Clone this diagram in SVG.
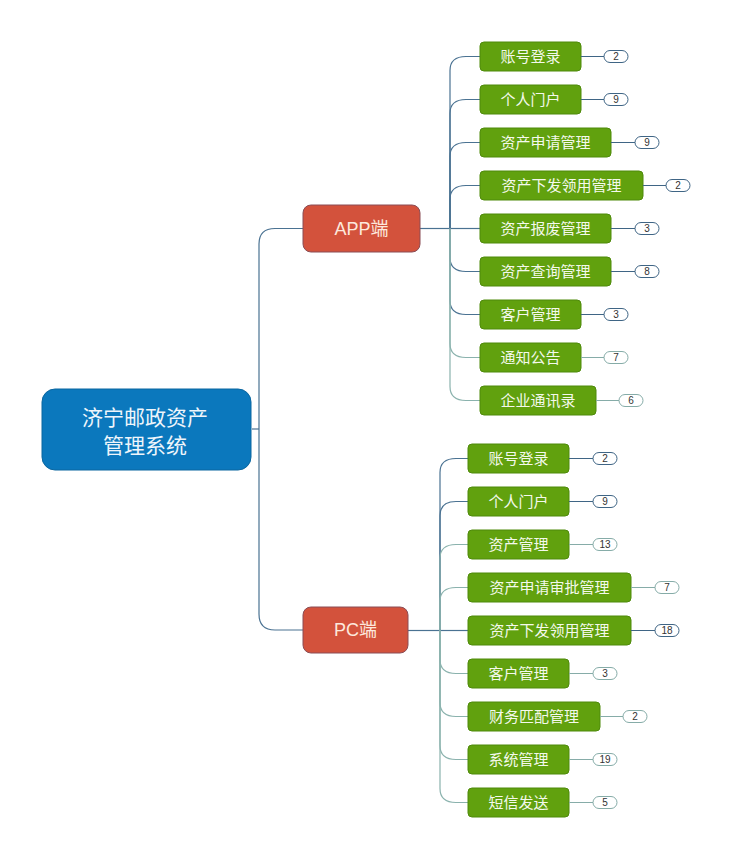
<svg xmlns="http://www.w3.org/2000/svg" width="732" height="860" viewBox="0 0 732 860">
<style>
text{font-family:"Liberation Sans","Noto Sans CJK SC",sans-serif;text-anchor:middle;dominant-baseline:central}
.root rect{fill:#0b78bd;stroke:#0a66a0;stroke-width:1}
.root text{fill:#eef5fb;font-size:21px}
.mid rect{fill:#d3523c;stroke:#8a4d55;stroke-width:1}
.mid text{fill:#fde8dc;font-size:18px}
.leaf rect.b{fill:#61a10e;stroke:#4f8a0b;stroke-width:1}
.leaf text.t{fill:#f4f9ec;font-size:15px}
.leaf rect.p{fill:#fff;stroke:#3f6585;stroke-width:1}
.leaf text.n{fill:#333;font-size:10px}
.leaf line{stroke:#3f6585;stroke-width:1}
.lt rect.p{stroke:#86aca8}
.lt line{stroke:#86aca8}
.c path{fill:none;stroke:#4a7292;stroke-width:1.2}
.c path.l{stroke:#8ab2ad}
</style>
<g class="c" id="connectors">
<path d="M252,429 H259"/>
<path d="M259,429 V244 Q259,228.5 275,228.5 H303"/>
<path d="M259,429 V614 Q259,630 275,630 H303"/>
<path d="M420,228.5 H450"/>
<path d="M450,228.5 V70.5 Q450,56.5 466,56.5 H480"/>
<path d="M450,228.5 V113.5 Q450,99.5 466,99.5 H480"/>
<path d="M450,228.5 V156.5 Q450,142.5 466,142.5 H480"/>
<path d="M450,228.5 V199.5 Q450,185.5 466,185.5 H480"/>
<path d="M450,228.5 H480"/>
<path d="M450,228.5 V257.5 Q450,271.5 466,271.5 H480"/>
<path d="M450,228.5 V300.5 Q450,314.5 466,314.5 H480"/>
<path class="l" d="M450,228.5 V343.5 Q450,357.5 466,357.5 H480"/>
<path class="l" d="M450,228.5 V386.5 Q450,400.5 466,400.5 H480"/>
<path d="M408,630.5 H440"/>
<path d="M440,630.5 V472.5 Q440,458.5 456,458.5 H468"/>
<path d="M440,630.5 V515.5 Q440,501.5 456,501.5 H468"/>
<path class="l" d="M440,630.5 V558.5 Q440,544.5 456,544.5 H468"/>
<path class="l" d="M440,630.5 V601.5 Q440,587.5 456,587.5 H468"/>
<path d="M440,630.5 H468"/>
<path class="l" d="M440,630.5 V659.5 Q440,673.5 456,673.5 H468"/>
<path class="l" d="M440,630.5 V702.5 Q440,716.5 456,716.5 H468"/>
<path class="l" d="M440,630.5 V745.5 Q440,759.5 456,759.5 H468"/>
<path class="l" d="M440,630.5 V788.5 Q440,802.5 456,802.5 H468"/>
</g>
<g class="root" id="root">
<rect x="42" y="389" width="209" height="81" rx="13"/>
<text x="145" y="417">济宁邮政资产</text>
<text x="145" y="445">管理系统</text>
</g>
<g class="mid" id="app">
<rect x="303" y="205" width="117" height="47" rx="8"/>
<text x="361.5" y="228.5">APP端</text>
</g>
<g class="mid" id="pc">
<rect x="303" y="607" width="105" height="46" rx="8"/>
<text x="355.5" y="630">PC端</text>
</g>
<g class="leaf" id="app1"><rect class="b" x="480" y="42" width="101" height="29" rx="4"/><text class="t" x="530.5" y="56.5">账号登录</text><line x1="581" y1="56.5" x2="604" y2="56.5"/><rect class="p" x="604" y="50.5" width="24" height="12" rx="6"/><text class="n" x="616" y="56.5">2</text></g>
<g class="leaf" id="app2"><rect class="b" x="480" y="85" width="101" height="29" rx="4"/><text class="t" x="530.5" y="99.5">个人门户</text><line x1="581" y1="99.5" x2="604" y2="99.5"/><rect class="p" x="604" y="93.5" width="24" height="12" rx="6"/><text class="n" x="616" y="99.5">9</text></g>
<g class="leaf" id="app3"><rect class="b" x="480" y="128" width="131" height="29" rx="4"/><text class="t" x="545.5" y="142.5">资产申请管理</text><line x1="611" y1="142.5" x2="635" y2="142.5"/><rect class="p" x="635" y="136.5" width="24" height="12" rx="6"/><text class="n" x="647" y="142.5">9</text></g>
<g class="leaf" id="app4"><rect class="b" x="480" y="171" width="163" height="29" rx="4"/><text class="t" x="561.5" y="185.5">资产下发领用管理</text><line x1="643" y1="185.5" x2="666" y2="185.5"/><rect class="p" x="666" y="179.5" width="24" height="12" rx="6"/><text class="n" x="678" y="185.5">2</text></g>
<g class="leaf" id="app5"><rect class="b" x="480" y="214" width="131" height="29" rx="4"/><text class="t" x="545.5" y="228.5">资产报废管理</text><line x1="611" y1="228.5" x2="635" y2="228.5"/><rect class="p" x="635" y="222.5" width="24" height="12" rx="6"/><text class="n" x="647" y="228.5">3</text></g>
<g class="leaf" id="app6"><rect class="b" x="480" y="257" width="131" height="29" rx="4"/><text class="t" x="545.5" y="271.5">资产查询管理</text><line x1="611" y1="271.5" x2="635" y2="271.5"/><rect class="p" x="635" y="265.5" width="24" height="12" rx="6"/><text class="n" x="647" y="271.5">8</text></g>
<g class="leaf" id="app7"><rect class="b" x="480" y="300" width="101" height="29" rx="4"/><text class="t" x="530.5" y="314.5">客户管理</text><line x1="581" y1="314.5" x2="604" y2="314.5"/><rect class="p" x="604" y="308.5" width="24" height="12" rx="6"/><text class="n" x="616" y="314.5">3</text></g>
<g class="leaf lt" id="app8"><rect class="b" x="480" y="343" width="101" height="29" rx="4"/><text class="t" x="530.5" y="357.5">通知公告</text><line x1="581" y1="357.5" x2="604" y2="357.5"/><rect class="p" x="604" y="351.5" width="24" height="12" rx="6"/><text class="n" x="616" y="357.5">7</text></g>
<g class="leaf lt" id="app9"><rect class="b" x="480" y="386" width="116" height="29" rx="4"/><text class="t" x="538" y="400.5">企业通讯录</text><line x1="596" y1="400.5" x2="619" y2="400.5"/><rect class="p" x="619" y="394.5" width="24" height="12" rx="6"/><text class="n" x="631" y="400.5">6</text></g>
<g class="leaf" id="pc1"><rect class="b" x="468" y="444" width="101" height="29" rx="4"/><text class="t" x="518.5" y="458.5">账号登录</text><line x1="569" y1="458.5" x2="593" y2="458.5"/><rect class="p" x="593" y="452.5" width="24" height="12" rx="6"/><text class="n" x="605" y="458.5">2</text></g>
<g class="leaf" id="pc2"><rect class="b" x="468" y="487" width="101" height="29" rx="4"/><text class="t" x="518.5" y="501.5">个人门户</text><line x1="569" y1="501.5" x2="593" y2="501.5"/><rect class="p" x="593" y="495.5" width="24" height="12" rx="6"/><text class="n" x="605" y="501.5">9</text></g>
<g class="leaf lt" id="pc3"><rect class="b" x="468" y="530" width="101" height="29" rx="4"/><text class="t" x="518.5" y="544.5">资产管理</text><line x1="569" y1="544.5" x2="593" y2="544.5"/><rect class="p" x="593" y="538.5" width="24" height="12" rx="6"/><text class="n" x="605" y="544.5">13</text></g>
<g class="leaf lt" id="pc4"><rect class="b" x="468" y="573" width="163" height="29" rx="4"/><text class="t" x="549.5" y="587.5">资产申请审批管理</text><line x1="631" y1="587.5" x2="655" y2="587.5"/><rect class="p" x="655" y="581.5" width="24" height="12" rx="6"/><text class="n" x="667" y="587.5">7</text></g>
<g class="leaf" id="pc5"><rect class="b" x="468" y="616" width="163" height="29" rx="4"/><text class="t" x="549.5" y="630.5">资产下发领用管理</text><line x1="631" y1="630.5" x2="655" y2="630.5"/><rect class="p" x="655" y="624.5" width="24" height="12" rx="6"/><text class="n" x="667" y="630.5">18</text></g>
<g class="leaf lt" id="pc6"><rect class="b" x="468" y="659" width="101" height="29" rx="4"/><text class="t" x="518.5" y="673.5">客户管理</text><line x1="569" y1="673.5" x2="593" y2="673.5"/><rect class="p" x="593" y="667.5" width="24" height="12" rx="6"/><text class="n" x="605" y="673.5">3</text></g>
<g class="leaf lt" id="pc7"><rect class="b" x="468" y="702" width="132" height="29" rx="4"/><text class="t" x="534" y="716.5">财务匹配管理</text><line x1="600" y1="716.5" x2="623" y2="716.5"/><rect class="p" x="623" y="710.5" width="24" height="12" rx="6"/><text class="n" x="635" y="716.5">2</text></g>
<g class="leaf lt" id="pc8"><rect class="b" x="468" y="745" width="101" height="29" rx="4"/><text class="t" x="518.5" y="759.5">系统管理</text><line x1="569" y1="759.5" x2="593" y2="759.5"/><rect class="p" x="593" y="753.5" width="24" height="12" rx="6"/><text class="n" x="605" y="759.5">19</text></g>
<g class="leaf lt" id="pc9"><rect class="b" x="468" y="788" width="101" height="29" rx="4"/><text class="t" x="518.5" y="802.5">短信发送</text><line x1="569" y1="802.5" x2="593" y2="802.5"/><rect class="p" x="593" y="796.5" width="24" height="12" rx="6"/><text class="n" x="605" y="802.5">5</text></g>
</svg>
